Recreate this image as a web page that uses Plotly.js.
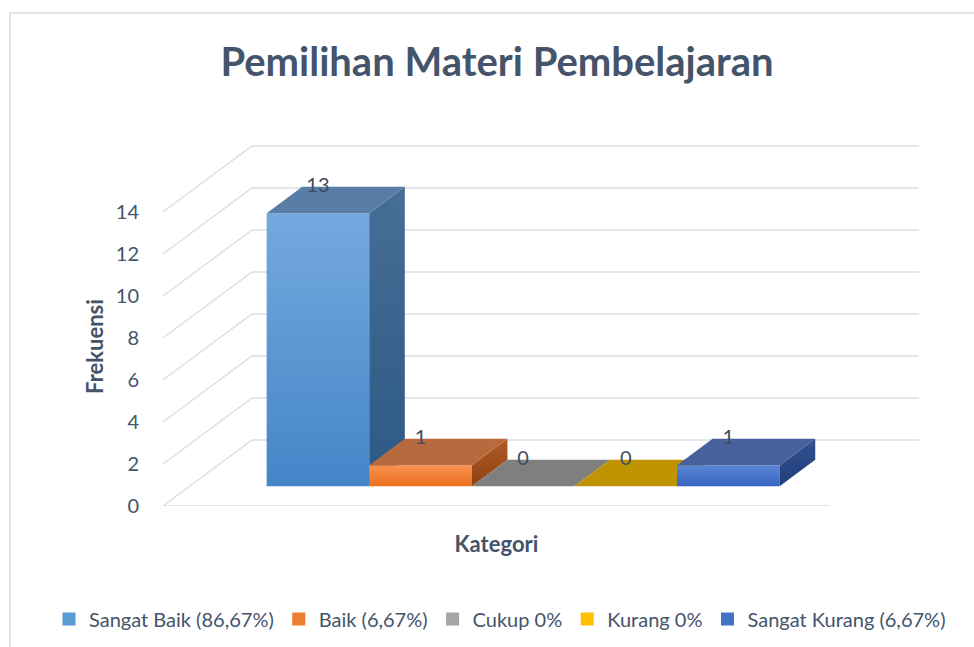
<!DOCTYPE html>
<html>
<head>
<meta charset="utf-8">
<script src="https://cdn.plot.ly/plotly-3.0.1.min.js"></script>
<style>html,body{margin:0;padding:0;background:#fff;}#chart{width:974px;height:647px;}</style>
</head>
<body>
<div id="chart"></div>
<script>
// ---- data ----
const categories = ['Sangat Baik (86,67%)', 'Baik (6,67%)', 'Cukup 0%', 'Kurang 0%', 'Sangat Kurang (6,67%)'];
const frekuensi = [13, 1, 0, 0, 1];
const yTickVals = [0, 2, 4, 6, 8, 10, 12, 14];
const yTickText = ['0', '2', '4', '6', '8', '10', '12', '14'];

// ---- styles ----
const legendColors = ['#5b9bd5', '#ed7d31', '#a5a5a5', '#ffc000', '#4472c4'];
const frontTop = ['#74a9de', '#f7924f', '#9a9a9a', '#e0b000', '#5a86d2'];
const frontBottom = ['#4585c8', '#ec7020', '#808080', '#c09300', '#3364bf'];
const topFace = ['#587ea7', '#b8693e', '#7f7f7f', '#c09400', '#46619b'];
const sideTop = ['#476e96', '#b05a26', '#6a6a6a', '#a07a00', '#33528f'];
const sideBottom = ['#2c5985', '#8f4212', '#5a5a5a', '#8a6800', '#203d7c'];
const textColor = '#44546a';
const gridColor = '#d9dde4';

// 3D projection parameters (category-width units / value units)
const DX = 0.867, DY = 66 / 21, Z0 = 0.3, Z1 = 0.7, GAP = 0.75;
const FLOOR = categories.length + 2 * GAP;
const P = (x, y, z) => [x + z * DX, y + z * DY];

const traces = [];

// walls / gridlines
const gx = [], gy = [];
yTickVals.forEach(v => {
  const pts = v === 0 ? [P(FLOOR, 0, 0), P(0, 0, 0), P(0, 0, 1), P(FLOOR, 0, 1)]
                      : [P(0, v, 0), P(0, v, 1), P(FLOOR, v, 1)];
  pts.forEach(p => { gx.push(p[0]); gy.push(p[1]); });
  gx.push(null); gy.push(null);
});
traces.push({type: 'scatter', mode: 'lines', x: gx, y: gy, line: {color: gridColor, width: 1.3},
  hoverinfo: 'skip', showlegend: false});

function poly(pts, style) {
  const x = pts.map(p => p[0]).concat([pts[0][0]]);
  const y = pts.map(p => p[1]).concat([pts[0][1]]);
  return Object.assign({type: 'scatter', mode: 'lines', x, y, fill: 'toself',
    line: {width: 0}, hoverinfo: 'skip', showlegend: false}, style);
}

frekuensi.forEach((v, i) => {
  const xl = GAP + i, xr = GAP + i + 1;
  if (v > 0) {
    traces.push(poly([P(xl, 0, Z0), P(xr, 0, Z0), P(xr, v, Z0), P(xl, v, Z0)],
      {fillgradient: {type: 'vertical', colorscale: [[0, frontBottom[i]], [1, frontTop[i]]]}}));
    traces.push(poly([P(xr, 0, Z0), P(xr, 0, Z1), P(xr, v, Z1), P(xr, v, Z0)],
      {fillgradient: {type: 'vertical', colorscale: [[0, sideBottom[i]], [1, sideTop[i]]]}}));
  }
  traces.push(poly([P(xl, v, Z0), P(xr, v, Z0), P(xr, v, Z1), P(xl, v, Z1)], {fillcolor: topFace[i]}));
});

// data labels
traces.push({type: 'scatter', mode: 'text',
  x: frekuensi.map((v, i) => GAP + i + 0.5 + Z0 * DX),
  y: frekuensi.map(v => v + Z1 * DY),
  text: frekuensi.map(String), textposition: 'middle center',
  textfont: {family: 'Lato, sans-serif', size: 20, color: '#3f4d63'},
  cliponaxis: false, hoverinfo: 'skip', showlegend: false});

// legend entries
categories.forEach((c, i) => {
  traces.push({type: 'scatter', mode: 'markers', name: c, x: [null], y: [null], xaxis: 'x2', yaxis: 'y2',
    marker: {symbol: 'square', size: 13, color: legendColors[i]}});
});

const W = 974, H = 647, L = 163, R = 0, T = 130, B = 141;
const pw = W - L - R, ph = H - T - B;
const pxPerX = 102.6, pxPerY = 21;

const layout = {
  width: W, height: H,
  margin: {l: L, r: R, t: T, b: B},
  paper_bgcolor: '#ffffff', plot_bgcolor: 'rgba(0,0,0,0)',
  font: {family: 'Lato, sans-serif', color: textColor},
  title: {text: 'Pemilihan Materi Pembelajaran', font: {family: 'Lato, sans-serif', size: 40, weight: 700, color: textColor},
    x: 497 / W, xref: 'container', xanchor: 'center', y: 1 - 62 / H, yref: 'container', yanchor: 'middle'},
  xaxis: {range: [0, pw / pxPerX], showgrid: false, zeroline: false, showline: false,
    showticklabels: false, ticks: '', fixedrange: true},
  xaxis2: {domain: [0, FLOOR * pxPerX / pw], range: [0, FLOOR], anchor: 'y2', showgrid: false, zeroline: false,
    showline: false, showticklabels: false, ticks: '',
    title: {text: 'Kategori', font: {size: 22, weight: 700, color: textColor}, standoff: 30}},
  yaxis: {range: [0, ph / pxPerY], tickvals: yTickVals, ticktext: yTickText, showgrid: false, zeroline: false,
    showline: false, ticks: 'outside', ticklen: 19, tickcolor: 'rgba(0,0,0,0)',
    tickfont: {size: 20, color: textColor}},
  yaxis2: {domain: [0, 2 * (506 - 346.5) / ph], range: [0, 1], anchor: 'x', showgrid: false, zeroline: false,
    showline: false, showticklabels: false, ticks: '',
    title: {text: 'Frekuensi', font: {size: 22, weight: 700, color: textColor}, standoff: 52}},
  legend: {orientation: 'h', xref: 'paper', yref: 'paper', x: (49 - L) / pw, xanchor: 'left',
    y: (H - B - 619) / ph, yanchor: 'middle', itemwidth: 30, font: {size: 20, color: textColor},
    bgcolor: 'rgba(0,0,0,0)'},
  shapes: [{type: 'rect', xref: 'paper', yref: 'paper',
    x0: (10 - L) / pw, x1: (990 - L) / pw, y0: (H - B - 670) / ph, y1: (H - B - 13) / ph,
    line: {color: gridColor, width: 1.5}, fillcolor: 'rgba(0,0,0,0)', layer: 'below'}]
};

Plotly.newPlot('chart', traces, layout, {displayModeBar: false, staticPlot: true});
</script>
</body>
</html>
